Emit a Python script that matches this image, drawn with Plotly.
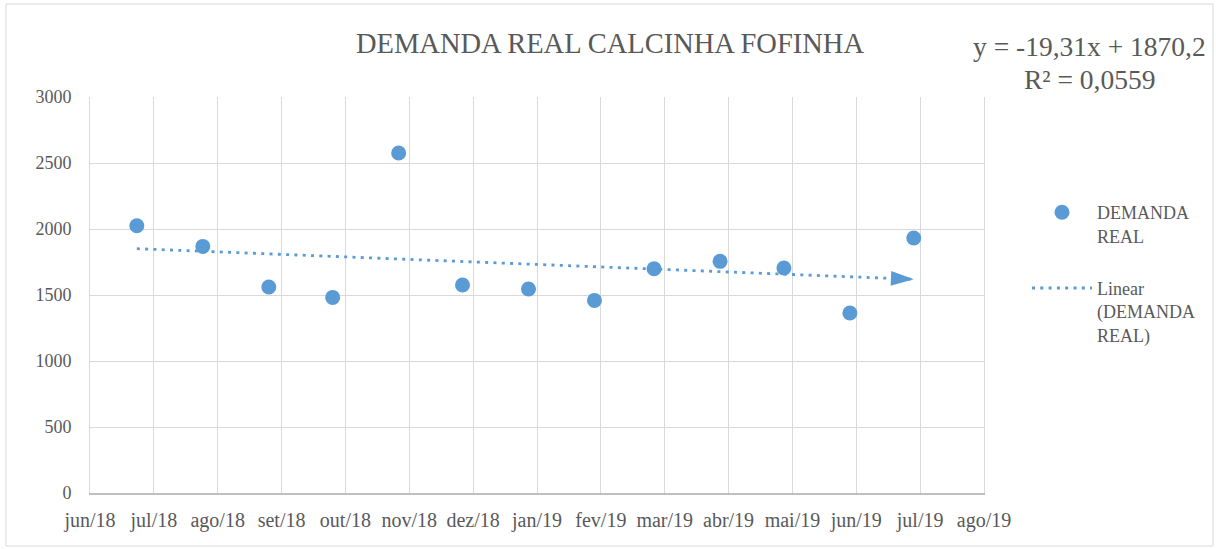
import plotly.graph_objects as go
import pandas as pd

# ---- data ----
dates = ["2018-06-30", "2018-07-31", "2018-08-31", "2018-09-30", "2018-10-31",
         "2018-11-30", "2018-12-31", "2019-01-31", "2019-02-28", "2019-03-31",
         "2019-04-30", "2019-05-31", "2019-06-30"]
demanda = [2025, 1868, 1561, 1482, 2576, 1576, 1545, 1459, 1699, 1755, 1705, 1364, 1932]

tick_labels = ["jun/18", "jul/18", "ago/18", "set/18", "out/18", "nov/18", "dez/18",
               "jan/19", "fev/19", "mar/19", "abr/19", "mai/19", "jun/19", "jul/19", "ago/19"]
axis_start = "2018-06-08"
tick_step_days = 30

trend_slope = -19.31
trend_intercept = 1870.2
trend_r2 = 0.0559

y_ticks = [0, 500, 1000, 1500, 2000, 2500, 3000]

# ---- derived ----
tick_dates = pd.date_range(axis_start, periods=len(tick_labels), freq=f"{tick_step_days}D")
x_range = [tick_dates[0], tick_dates[-1]]
trend_x = [dates[0], dates[-1]]
trend_y = [trend_intercept + trend_slope * 1, trend_intercept + trend_slope * len(demanda)]

BLUE = "#5B9BD5"
GRAY = "#595959"
GRID = "#D9D9D9"
FONT = "Liberation Serif"

W, H = 1216, 549
L, R, T, B = 90, 232, 97, 56
PW, PH = W - L - R, H - T - B


def px_x(p):
    return (p - L) / PW


def px_y(p):
    return (H - B - p) / PH


fig = go.Figure()

fig.add_trace(go.Scatter(
    x=dates, y=demanda, mode="markers", name="DEMANDA<br>REAL",
    marker=dict(color=BLUE, size=15, opacity=1, line=dict(width=0)), legendgroup="a",
))
fig.add_trace(go.Scatter(
    x=trend_x, y=trend_y, mode="lines", name="Linear<br>(DEMANDA<br>REAL)",
    line=dict(color=BLUE, width=2.8, dash="3px,5.3px"), legendgroup="b",
))
fig.add_trace(go.Scatter(
    x=trend_x, y=trend_y, mode="markers", showlegend=False,
    marker=dict(color=BLUE, size=[0, 24], symbol="arrow", angleref="previous",
                opacity=1, line=dict(width=0)),
))

fig.update_layout(
    width=W, height=H,
    margin=dict(l=L, r=R, t=T, b=B),
    paper_bgcolor="white", plot_bgcolor="white",
    font=dict(family=FONT, color=GRAY),
    title=dict(text="DEMANDA REAL CALCINHA FOFINHA", x=610 / W, xanchor="center",
               y=1 - 43 / H, yanchor="middle", font=dict(size=28.5, color=GRAY, family=FONT)),
    showlegend=True,
    legend=dict(x=px_x(1027), y=px_y(194), xanchor="left", yanchor="top",
                font=dict(size=18, color=GRAY, family=FONT), valign="top",
                itemwidth=60, tracegroupgap=26, bgcolor="rgba(0,0,0,0)"),
    xaxis=dict(type="date", range=x_range, tickvals=tick_dates, ticktext=tick_labels,
               showgrid=True, gridcolor=GRID, gridwidth=1,
               showline=True, linecolor="#BFBFBF", linewidth=1.5,
               ticks="", tickfont=dict(size=20, color=GRAY, family=FONT),
               ticklabelstandoff=8, zeroline=False),
    yaxis=dict(range=[0, 3000], tickvals=y_ticks, showgrid=True, gridcolor=GRID, gridwidth=1,
               showline=True, linecolor=GRID, linewidth=1, mirror=True,
               ticks="", tickfont=dict(size=18, color=GRAY, family=FONT),
               ticklabelstandoff=14, zeroline=False),
    shapes=[dict(type="rect", xref="paper", yref="paper",
                 x0=px_x(6), x1=px_x(1213), y0=px_y(546), y1=px_y(4),
                 line=dict(color=GRID, width=1), fillcolor="rgba(0,0,0,0)", layer="below")],
    annotations=[
        dict(text="y = -19,31x + 1870,2", xref="paper", yref="paper",
             x=px_x(1089), y=px_y(47), xanchor="center", yanchor="middle",
             showarrow=False, font=dict(size=27.5, color=GRAY, family=FONT)),
        dict(text=f"R² = {str(trend_r2).replace('.', ',')}", xref="paper", yref="paper",
             x=px_x(1089), y=px_y(79), xanchor="center", yanchor="middle",
             showarrow=False, font=dict(size=27.5, color=GRAY, family=FONT)),
    ],
)

fig.write_html("out.html", config={"displayModeBar": False},
               post_script="document.body.style.margin='0';document.body.style.padding='0';")
